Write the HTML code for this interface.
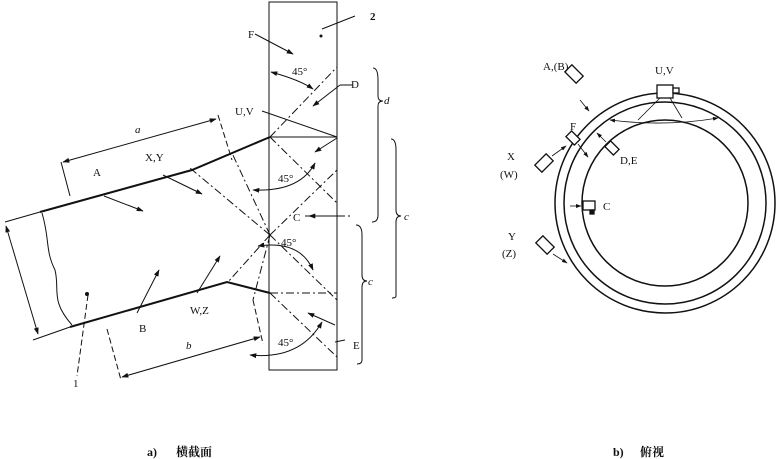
<!DOCTYPE html>
<html><head><meta charset="utf-8"><style>
html,body{margin:0;padding:0;background:#fff;}
svg{display:block}
text{font-family:"Liberation Serif","Noto Serif CJK SC",serif;fill:#111;}
</style></head><body>
<svg width="777" height="459" viewBox="0 0 777 459" xmlns="http://www.w3.org/2000/svg">
<defs>
<marker id="ar" viewBox="0 0 10 10" refX="9" refY="5" markerWidth="7" markerHeight="7" orient="auto-start-reverse"><path d="M0,1.5 L10,5 L0,8.5 z" fill="#111"/></marker>
</defs>
<g stroke="#111" fill="none" stroke-width="1">
<rect x="269" y="2" width="68" height="368"/>
<path d="M5,222 L40,212" />
<path d="M40,212 L192,170 L270,137" stroke-width="2"/>
<path d="M33,340 L70,327"/>
<path d="M70,327 L227,282 L270,293" stroke-width="2"/>
<path d="M42,213 C50,240 45,250 55,270 C60,290 50,300 72,325"/>
<line x1="6" y1="226" x2="38" y2="334" marker-start="url(#ar)" marker-end="url(#ar)"/>
<line x1="61" y1="162" x2="70" y2="196"/>
<line x1="218" y1="115" x2="232" y2="160" stroke-dasharray="6,3"/>
<line x1="63" y1="162" x2="216" y2="119" marker-start="url(#ar)" marker-end="url(#ar)"/>
<line x1="107" y1="329" x2="121" y2="380" stroke-dasharray="6,3"/>
<line x1="253" y1="300" x2="263" y2="344" stroke-dasharray="6,3"/>
<line x1="122" y1="377" x2="260" y2="337" marker-start="url(#ar)" marker-end="url(#ar)"/>
<g stroke-dasharray="8,3,2,3">
<line x1="270" y1="137" x2="337" y2="67"/>
<line x1="270" y1="137" x2="337" y2="137"/>
<line x1="270" y1="137" x2="337" y2="203"/>
<line x1="270" y1="235" x2="337" y2="170"/>
<line x1="270" y1="235" x2="337" y2="300"/>
<line x1="270" y1="293" x2="337" y2="293"/>
<line x1="270" y1="293" x2="337" y2="357"/>
<line x1="270" y1="235" x2="190" y2="168"/>
<line x1="270" y1="235" x2="232" y2="153"/>
<line x1="270" y1="235" x2="228" y2="282"/>
<line x1="270" y1="235" x2="253" y2="300"/>
<line x1="305" y1="216" x2="350" y2="216"/>
</g>
<line x1="270" y1="137" x2="337" y2="137"/>
<line x1="262" y1="111" x2="337" y2="137"/>
<line x1="255" y1="34" x2="293" y2="54" marker-end="url(#ar)"/>
<line x1="340" y1="85" x2="313" y2="106" marker-end="url(#ar)"/>
<line x1="337" y1="138" x2="315" y2="152" marker-end="url(#ar)"/>
<line x1="337" y1="216" x2="309" y2="216" marker-end="url(#ar)"/>
<line x1="335" y1="325" x2="308" y2="313" marker-end="url(#ar)"/>
<line x1="104" y1="196" x2="143" y2="211" marker-end="url(#ar)"/>
<line x1="163" y1="175" x2="202" y2="194" marker-end="url(#ar)"/>
<line x1="137" y1="313" x2="159" y2="270" marker-end="url(#ar)"/>
<line x1="197" y1="293" x2="220" y2="256" marker-end="url(#ar)"/>
<line x1="88" y1="295" x2="77" y2="376" stroke-dasharray="6,3"/>
<line x1="355" y1="16" x2="322" y2="29"/>
<line x1="353" y1="85" x2="340" y2="85"/>
<line x1="345" y1="340" x2="335" y2="342"/>
<path d="M271,72 Q300,80 313,89" marker-start="url(#ar)" marker-end="url(#ar)"/>
<path d="M253,190 Q300,192 315,163" marker-start="url(#ar)" marker-end="url(#ar)"/>
<path d="M258,246 Q300,240 313,270" marker-start="url(#ar)" marker-end="url(#ar)"/>
<path d="M250,355 Q300,360 322,322" marker-start="url(#ar)" marker-end="url(#ar)"/>
<path d="M373,68 Q378,68 378,80 L378,96 Q378,101 383,101 Q378,101 378,106 L378,215 Q378,222 372,222"/>
<path d="M391,139 Q396,139 396,150 L396,210 Q396,216 401,216 Q396,216 396,222 L396,296 Q396,298 392,298"/>
<path d="M356,225 Q362,225 362,235 L362,275 Q362,281 367,281 Q362,281 362,287 L362,360 Q362,364 357,364"/>
</g>
<circle cx="87" cy="294" r="2" fill="#111"/>
<circle cx="321" cy="36" r="1.5" fill="#111"/>
<g font-size="11">
<text x="135" y="133" font-style="italic">a</text>
<text x="145" y="161">X,Y</text>
<text x="93" y="176">A</text>
<text x="139" y="332">B</text>
<text x="190" y="314">W,Z</text>
<text x="186" y="349" font-style="italic">b</text>
<text x="73" y="387">1</text>
<text x="248" y="38">F</text>
<text x="370" y="20" font-weight="bold">2</text>
<text x="351" y="88">D</text>
<text x="235" y="115">U,V</text>
<text x="293" y="221">C</text>
<text x="353" y="349">E</text>
<text x="384" y="104" font-style="italic">d</text>
<text x="404" y="220" font-style="italic">c</text>
<text x="368" y="285" font-style="italic">c</text>
<text x="292" y="75">45°</text>
<text x="278" y="182">45°</text>
<text x="281" y="246">45°</text>
<text x="278" y="346">45°</text>
</g>
<g stroke="#111" fill="none" stroke-width="1.5">
<circle cx="665" cy="203" r="110"/>
<circle cx="665" cy="203" r="101"/>
<circle cx="665" cy="203" r="83"/>
</g>
<g stroke="#111" fill="#fff" stroke-width="1.3">
<rect x="657" y="85" width="16" height="13"/>
<rect x="673" y="88" width="6" height="5"/>
<rect x="583" y="201" width="12" height="9"/>
<rect x="590" y="210" width="4" height="4" fill="#111"/>
<rect x="-8" y="-5" width="16" height="10" transform="translate(574,74) rotate(45)"/>
<rect x="-8" y="-5" width="16" height="10" transform="translate(544,163) rotate(-45)"/>
<rect x="-8" y="-5" width="16" height="10" transform="translate(545,245) rotate(45)"/>
<rect x="-6" y="-4" width="12" height="8" transform="translate(573,138) rotate(45)"/>
<rect x="-6" y="-4" width="12" height="8" transform="translate(612,148) rotate(45)"/>
</g>
<g stroke="#111" fill="none" stroke-width="0.8">
<path d="M660,98 L638,120 M670,98 L682,118"/>
<path d="M610,120 Q665,127 718,118" marker-start="url(#ar)" marker-end="url(#ar)"/>
<line x1="580" y1="100" x2="589" y2="111" marker-end="url(#ar)"/>
<line x1="552" y1="156" x2="566" y2="146" marker-end="url(#ar)"/>
<line x1="578" y1="144" x2="588" y2="157" marker-end="url(#ar)"/>
<line x1="606" y1="142" x2="597" y2="133" marker-end="url(#ar)"/>
<line x1="570" y1="206" x2="581" y2="206" marker-end="url(#ar)"/>
<line x1="553" y1="254" x2="567" y2="263" marker-end="url(#ar)"/>
</g>
<g font-size="11">
<text x="543" y="70">A,(B)</text>
<text x="655" y="74">U,V</text>
<text x="570" y="130">F</text>
<text x="620" y="164">D,E</text>
<text x="507" y="160">X</text>
<text x="500" y="178">(W)</text>
<text x="603" y="210">C</text>
<text x="508" y="240">Y</text>
<text x="502" y="257">(Z)</text>
</g>
<g font-size="12" font-weight="bold">
<text x="147" y="456">a)</text>
<text x="176" y="456">横截面</text>
<text x="613" y="456">b)</text>
<text x="640" y="456">俯视</text>
</g>
</svg>
</body></html>
